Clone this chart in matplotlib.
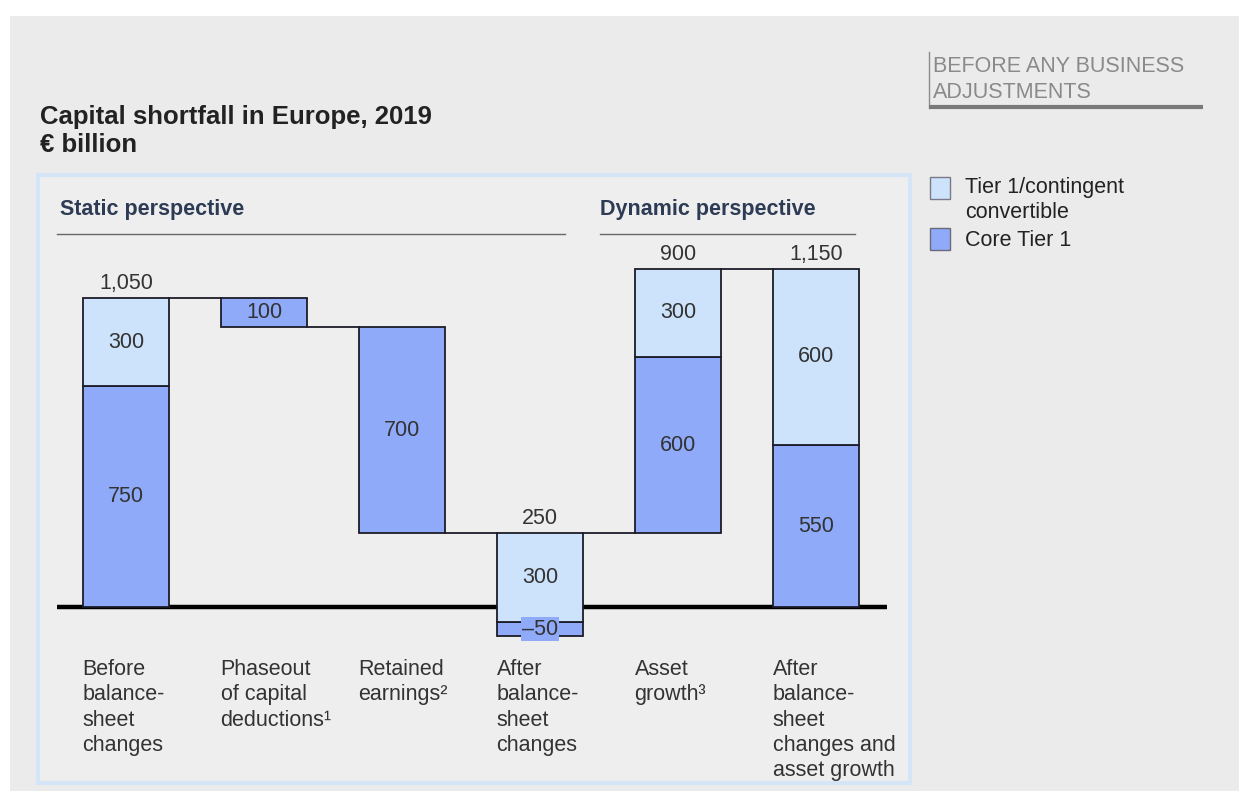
import matplotlib.pyplot as plt
from matplotlib.patches import Rectangle
import numpy as np

plt.rcParams['font.family'] = ['Liberation Sans', 'DejaVu Sans']

# ---- data (EUR billion) ----
categories = [
    "Before\nbalance-\nsheet\nchanges",
    "Phaseout\nof capital\ndeductions\u00b9",
    "Retained\nearnings\u00b2",
    "After\nbalance-\nsheet\nchanges",
    "Asset\ngrowth\u00b3",
    "After\nbalance-\nsheet\nchanges and\nasset growth",
]
# kind of each step: 'total' stacks from zero, 'down' / 'up' moves the running level
step_kind = ["total", "down", "down", "total", "up", "total"]
core_tier1 = [750, 100, 700, -50, 600, 550]
tier1_cc = [300, 0, 0, 300, 300, 600]
total_labels = ["1,050", None, None, "250", "900", "1,150"]

LIGHT = "#cde3fb"
CORE = "#8eaaf8"
EDGE = "#1c1c28"
TXT = "#333333"
BG = "#ebebeb"
FS = 15.5

W, H = 1239, 791
fig = plt.figure(figsize=(W / 100, H / 100), dpi=100)
fig.patch.set_facecolor("white")

# overlay axes in pixel coordinates for page decorations
deco = fig.add_axes([0, 0, 1, 1])
deco.set_xlim(0, W)
deco.set_ylim(H, 0)
deco.axis("off")
deco.add_patch(Rectangle((10, 16), W - 10, H - 16, facecolor=BG, edgecolor="none"))

deco.text(40, 117, "Capital shortfall in Europe, 2019", fontsize=18.5, fontweight="bold",
          color="#222222", va="center", ha="left")
deco.text(40, 145, "\u20ac billion", fontsize=18.5, fontweight="bold",
          color="#222222", va="center", ha="left")

# boxed note top right
deco.plot([929, 929], [52, 108], color="#8c8c8c", lw=1)
deco.plot([929, 1203], [107, 107], color="#7a7a7a", lw=3, solid_capstyle="butt")
deco.text(933, 66, "BEFORE ANY BUSINESS", fontsize=FS, color="#8a8a8a", va="center", ha="left")
deco.text(933, 92, "ADJUSTMENTS", fontsize=FS, color="#8a8a8a", va="center", ha="left")

# legend
deco.add_patch(Rectangle((930, 177), 20, 22, facecolor=LIGHT, edgecolor="#7a7a8a", lw=1))
deco.add_patch(Rectangle((930, 228), 20, 22, facecolor=CORE, edgecolor="#6a6a7a", lw=1))
deco.text(965, 188, "Tier 1/contingent", fontsize=FS, color="#222222", va="center", ha="left")
deco.text(965, 213, "convertible", fontsize=FS, color="#222222", va="center", ha="left")
deco.text(965, 240, "Core Tier 1", fontsize=FS, color="#222222", va="center", ha="left")

# ---- chart panel ----
px_left, px_right, px_top, px_bot = 38, 910, 175, 783
ax = fig.add_axes([px_left / W, 1 - px_bot / H, (px_right - px_left) / W, (px_bot - px_top) / H])
ax.set_facecolor("#eeeeee")

base_px = 607.0
scale = 0.2943          # pixels per EUR billion
step_px = 138.0
x0_px = 126.0
ax.set_ylim(-(px_bot - base_px) / scale, (base_px - px_top) / scale)
ax.set_xlim((px_left - x0_px) / step_px, (px_right - x0_px) / step_px)
ax.set_xticks([])
ax.set_yticks([])
for s in ax.spines.values():
    s.set_color("#d3e5f6")
    s.set_linewidth(3)

x = np.arange(len(categories))
width = 0.63

# waterfall geometry from the step values
core_bottom, core_height, t1_bottom, tops = [], [], [], []
level = 0.0
for kind, c, t in zip(step_kind, core_tier1, tier1_cc):
    if kind == "total":
        core_bottom.append(0 if c >= 0 else c)
        core_height.append(c)
        t1_bottom.append(c)
        level = c + t
    elif kind == "down":
        core_bottom.append(level - c)
        core_height.append(c)
        t1_bottom.append(level - c)
        level = level - c - t
    else:
        core_bottom.append(level)
        core_height.append(c)
        t1_bottom.append(level + c)
        level = level + c + t
    tops.append(level)

# level each bar hands on to the next one
ends = []
for i, kind in enumerate(step_kind):
    if kind == "down":
        ends.append(core_bottom[i])
    else:
        ends.append(tops[i])
ends[0] = tops[0]

for i in range(len(x) - 1):
    y = ends[i]
    ax.plot([x[i] + width / 2, x[i + 1] - width / 2], [y, y], color=EDGE, lw=1.3, zorder=2)

# baseline
ax.plot([(57 - x0_px) / step_px, (887 - x0_px) / step_px], [0, 0], color="black", lw=3.2,
        zorder=2, solid_capstyle="butt")

ax.bar(x, core_height, bottom=core_bottom, width=width, color=CORE, edgecolor=EDGE, lw=1.3, zorder=3)
t1_mask = np.array(tier1_cc) > 0
ax.bar(x[t1_mask], np.array(tier1_cc)[t1_mask], bottom=np.array(t1_bottom)[t1_mask], width=width,
       color=LIGHT, edgecolor=EDGE, lw=1.3, zorder=3)

# segment labels
for i in range(len(x)):
    c = core_tier1[i]
    cy = core_bottom[i] + core_height[i] / 2
    if c < 0:
        ax.text(x[i], cy, f"\u2013{abs(c)}", ha="center", va="center", fontsize=FS, color=TXT,
                zorder=5, bbox=dict(boxstyle="square,pad=0.05", facecolor=CORE, edgecolor="none"))
    else:
        ax.text(x[i], cy, f"{c:,}", ha="center", va="center", fontsize=FS, color=TXT, zorder=5)
    if tier1_cc[i] > 0:
        ty = t1_bottom[i] + tier1_cc[i] / 2
        ax.text(x[i], ty, f"{tier1_cc[i]:,}", ha="center", va="center", fontsize=FS,
                color=TXT, zorder=5)
    if total_labels[i]:
        ax.text(x[i], tops[i] + 14.5 / scale, total_labels[i], ha="center", va="center",
                fontsize=FS, color=TXT, zorder=5)

# category labels
for i, lab in enumerate(categories):
    ax.text(x[i] - width / 2, -(659 - base_px) / scale, lab, ha="left", va="top",
            fontsize=FS, color=TXT, linespacing=1.27)

# section headers
hdr_y = (base_px - 210) / scale
line_y = (base_px - 234) / scale
ax.text((60 - x0_px) / step_px, hdr_y, "Static perspective", fontsize=FS, fontweight="bold",
        color="#2d3b55", ha="left", va="center")
ax.plot([(57 - x0_px) / step_px, (565 - x0_px) / step_px], [line_y, line_y], color="#666666", lw=1)
ax.text((600 - x0_px) / step_px, hdr_y, "Dynamic perspective", fontsize=FS, fontweight="bold",
        color="#2d3b55", ha="left", va="center")
ax.plot([(600 - x0_px) / step_px, (855 - x0_px) / step_px], [line_y, line_y], color="#666666", lw=1)

fig.savefig("out.png", dpi=100, facecolor=fig.get_facecolor())
